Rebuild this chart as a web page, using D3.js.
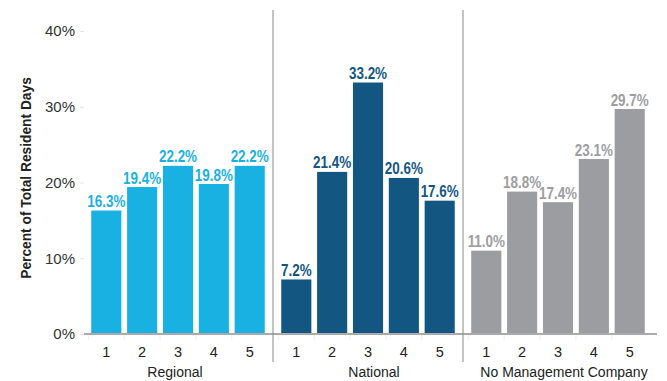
<!DOCTYPE html>
<html>
<head>
<meta charset="utf-8">
<script src="https://cdn.jsdelivr.net/npm/d3@7"></script>
<style>
  body { margin: 0; background: #fff; }
  svg { font-family: "Liberation Sans", Arial, sans-serif; }
  .value { font-weight: bold; font-size: 16px; }
</style>
</head>
<body>
<div id="chart"></div>
<script>
// data
var groups = ["Regional", "National", "No Management Company"];
var ratings = ["1", "2", "3", "4", "5"];
var regional = [16.3, 19.4, 22.2, 19.8, 22.2];
var national = [7.2, 21.4, 33.2, 20.6, 17.6];
var noManagement = [11.0, 18.8, 17.4, 23.1, 29.7];
var yTicks = [0, 10, 20, 30, 40];
var colours = ["#19b1e2", "#135682", "#9c9da1"];

var width = 667, height = 381;
var series = [regional, national, noManagement];

svg = d3.select("#chart").append("svg")
    .attr("width", width)
    .attr("height", height);

var y = d3.scaleLinear().domain([0, 40]).range([334, 31]);
var x0 = d3.scaleBand().domain(groups).range([83, 653]);
var x1 = d3.scaleBand().domain(ratings).range([0, x0.bandwidth()])
    .paddingInner(0.16).paddingOuter(0.23);

// y axis
var yAxis = svg.append("g")
    .attr("transform", "translate(84,0)")
    .call(d3.axisLeft(y).tickValues(yTicks).tickSize(4).tickFormat((d) => d + "%"));
yAxis.select(".domain").remove();
yAxis.selectAll(".tick line").style("stroke", "#e4e4e4");
yAxis.selectAll(".tick text")
    .attr("x", -9)
    .style("font-size", "15px")
    .style("fill", "#333");

// y title
svg.append("text")
    .text("Percent of Total Resident Days")
    .attr("transform", "translate(31,178) rotate(-90) scale(0.95,1)")
    .attr("text-anchor", "middle")
    .style("font-size", "14.5px")
    .style("font-weight", "bold")
    .style("fill", "#222");

// bars
groups.forEach((g, gi) => {
    var gr = svg.append("g").attr("transform", "translate(" + x0(g) + ",0)");
    var rows = ratings.map((r, i) => ({rating: r, value: series[gi][i]}));
    gr.selectAll("rect")
        .data(rows).enter()
        .append("rect")
        .attr("x", (d) => x1(d.rating))
        .attr("width", x1.bandwidth())
        .attr("y", (d) => y(d.value))
        .attr("height", (d) => y(0) - y(d.value))
        .style("fill", colours[gi]);
    // condensed value labels
    gr.selectAll("text.value")
        .data(rows).enter()
        .append("text")
        .attr("class", "value")
        .text((d) => d.value.toFixed(1) + "%")
        .attr("text-anchor", "middle")
        .attr("transform", (d) => "translate(" + (x1(d.rating) + x1.bandwidth() / 2) +
            "," + (y(d.value) - 3.5) + ") scale(0.84,1)")
        .style("fill", colours[gi]);
    // faint ticks under baseline
    gr.selectAll("line.tk")
        .data(ratings).enter()
        .append("line")
        .attr("x1", (d) => x1(d) - x1.step() * x1.paddingInner() / 2)
        .attr("x2", (d) => x1(d) - x1.step() * x1.paddingInner() / 2)
        .attr("y1", y(0))
        .attr("y2", y(0) + 6)
        .style("stroke", "#eee");
    gr.selectAll("text.rating")
        .data(ratings).enter()
        .append("text")
        .attr("class", "rating")
        .text((d) => d)
        .attr("text-anchor", "middle")
        .attr("x", (d) => x1(d) + x1.bandwidth() / 2)
        .attr("y", 357)
        .style("font-size", "14.5px")
        .style("fill", "#222");
    gr.append("text")
        .text(g)
        .attr("text-anchor", "middle")
        .attr("x", x0.bandwidth() / 2 + (gi == 0 ? -3 : 6))
        .attr("y", 377)
        .style("font-size", "14px")
        .style("fill", "#222");
});

// baseline
svg.append("line")
    .attr("x1", 84).attr("x2", 657)
    .attr("y1", y(0)).attr("y2", y(0))
    .style("stroke", "#aaa")
    .style("stroke-width", "2");

// group separators
svg.selectAll("line.sep")
    .data(groups.slice(1)).enter()
    .append("line")
    .attr("x1", (d) => x0(d)).attr("x2", (d) => x0(d))
    .attr("y1", 10).attr("y2", 362)
    .style("stroke", "#888")
    .style("stroke-width", "1");
</script>
</body>
</html>
